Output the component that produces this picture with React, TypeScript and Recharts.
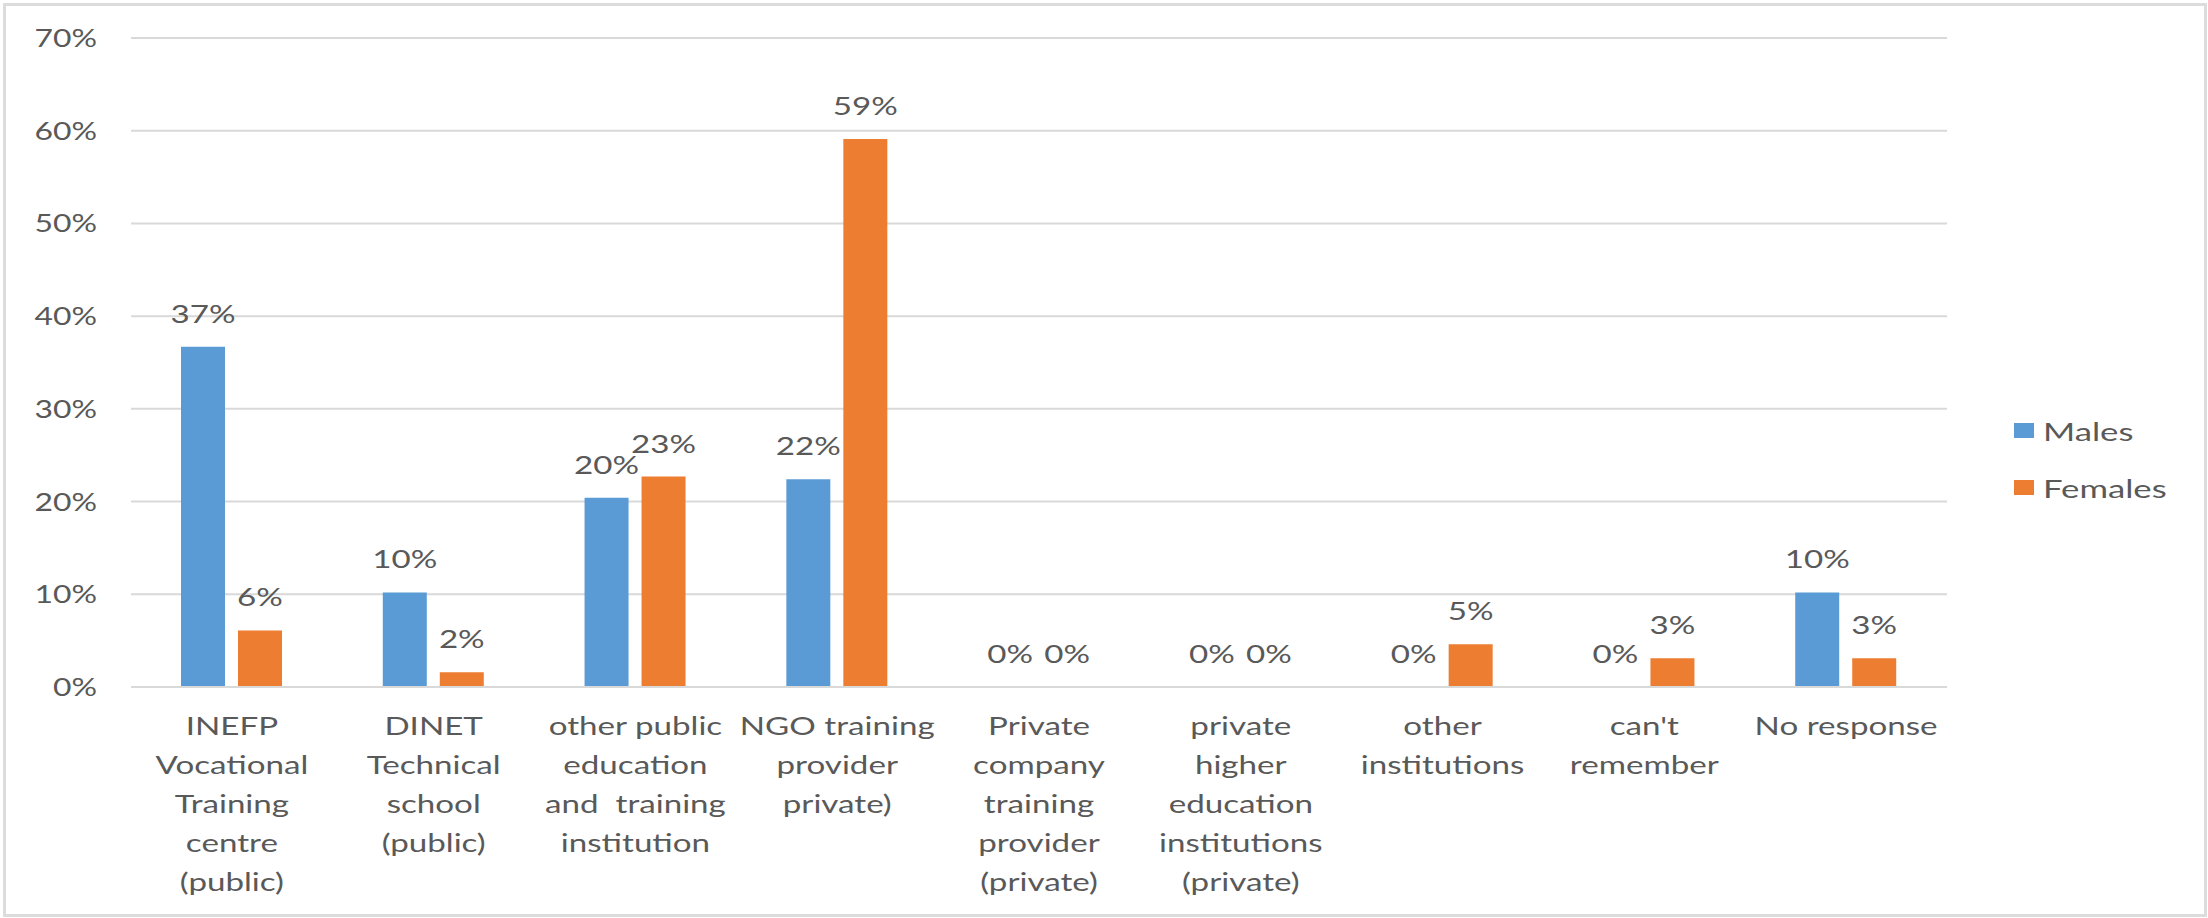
import React from 'react';
import { BarChart, Bar, XAxis, YAxis, CartesianGrid, Legend, LabelList } from 'recharts';

const categories = [
  'INEFP\nVocational\nTraining\ncentre\n(public)',
  'DINET\nTechnical\nschool\n(public)',
  'other public\neducation\nand  training\ninstitution',
  'NGO training\nprovider\nprivate)',
  'Private\ncompany\ntraining\nprovider\n(private)',
  'private\nhigher\neducation\ninstitutions\n(private)',
  'other\ninstitutions',
  "can't\nremember",
  'No response',
];
const males = [0.367, 0.102, 0.204, 0.224, 0, 0, 0, 0, 0.102];
const females = [0.061, 0.016, 0.227, 0.591, 0, 0, 0.046, 0.031, 0.031];
const yTicks = [0, 0.1, 0.2, 0.3, 0.4, 0.5, 0.6, 0.7];
const seriesNames = ['Males', 'Females'];
const seriesColors = ['#5B9BD5', '#ED7D31'];

const data = categories.map((c, i) => ({ category: c, Males: males[i], Females: females[i] }));

const FONT = 'Lato';
const FS = 25.5;
const SX = 1.3;
const TXT = '#595959';
const pct = (v: number) => `${Math.round(v * 100)}%`;

const CatTick = (props: any) => {
  const { x, y, payload } = props;
  const lines = String(payload.value).split('\n');
  return (
    <g transform={`translate(${x},${y}) scale(${SX},1)`}>
      <text x={0} y={0} textAnchor="middle" fill={TXT} fontSize={FS} fontFamily={FONT} style={{ whiteSpace: 'pre' }}>
        {lines.map((l, i) => (
          <tspan key={i} x={0} dy={i === 0 ? 48 : 39}>{l}</tspan>
        ))}
      </text>
    </g>
  );
};

const YTick = (props: any) => {
  const { y, payload } = props;
  return (
    <g transform={`translate(97,${Number(y) + 9}) scale(1.25,1)`}>
      <text x={0} y={0} textAnchor="end" fill={TXT} fontSize={FS} fontFamily={FONT}>
        {pct(payload.value)}
      </text>
    </g>
  );
};

const renderLabel = (props: any) => {
  const { x, y, width, value } = props;
  const cx = Number(x) + Number(width) / 2;
  return (
    <g transform={`translate(${cx},${Number(y) - 24}) scale(${SX},1)`}>
      <text x={0} y={0} textAnchor="middle" fill={TXT} fontSize={FS} fontFamily={FONT}>
        {pct(Number(value))}
      </text>
    </g>
  );
};

const LegendContent = () => (
  <div style={{ fontFamily: FONT, fontSize: FS, color: TXT }}>
    {seriesNames.map((n, i) => (
      <div key={n} style={{ display: 'flex', alignItems: 'center', height: 57 }}>
        <div style={{ width: 20, height: 15, background: seriesColors[i], marginRight: 9 }} />
        <span style={{ display: 'inline-block', transform: 'scaleX(1.36)', transformOrigin: 'left center' }}>{n}</span>
      </div>
    ))}
  </div>
);

const zeroMin = (v: any) => (Number(v) === 0 ? 0.001 : 0);

export default function App() {
  return (
    <div style={{ position: 'absolute', left: 0, top: 0, width: 2208, height: 918, background: '#fff' }}>
      <BarChart
        width={2208}
        height={918}
        data={data}
        margin={{ top: 38, right: 71, left: 0, bottom: 0 }}
        barSize={44}
        barGap={13}
      >
        <CartesianGrid vertical={false} stroke="#d9d9d9" strokeWidth={2} />
        <XAxis
          dataKey="category"
          height={231}
          interval={0}
          tick={<CatTick />}
          tickLine={false}
          tickSize={0}
          tickMargin={0}
          axisLine={{ stroke: '#d9d9d9', strokeWidth: 2 }}
        />
        <YAxis
          width={131}
          domain={[0, 0.7]}
          ticks={yTicks}
          tick={<YTick />}
          axisLine={false}
          tickLine={false}
          interval={0}
        />
        <Legend
          layout="vertical"
          align="right"
          verticalAlign="top"
          content={<LegendContent />}
          wrapperStyle={{ position: 'absolute', left: 2014, top: 402, width: 190, height: 114 }}
        />
        <Bar dataKey="Males" fill={seriesColors[0]} isAnimationActive={false} minPointSize={zeroMin as any}>
          <LabelList dataKey="Males" content={renderLabel} />
        </Bar>
        <Bar dataKey="Females" fill={seriesColors[1]} isAnimationActive={false} minPointSize={zeroMin as any}>
          <LabelList dataKey="Females" content={renderLabel} />
        </Bar>
      </BarChart>
      <div style={{ position: 'absolute', left: 3, top: 3, width: 2198, height: 908, border: '3px solid #dcdcdc', pointerEvents: 'none' }} />
    </div>
  );
}
